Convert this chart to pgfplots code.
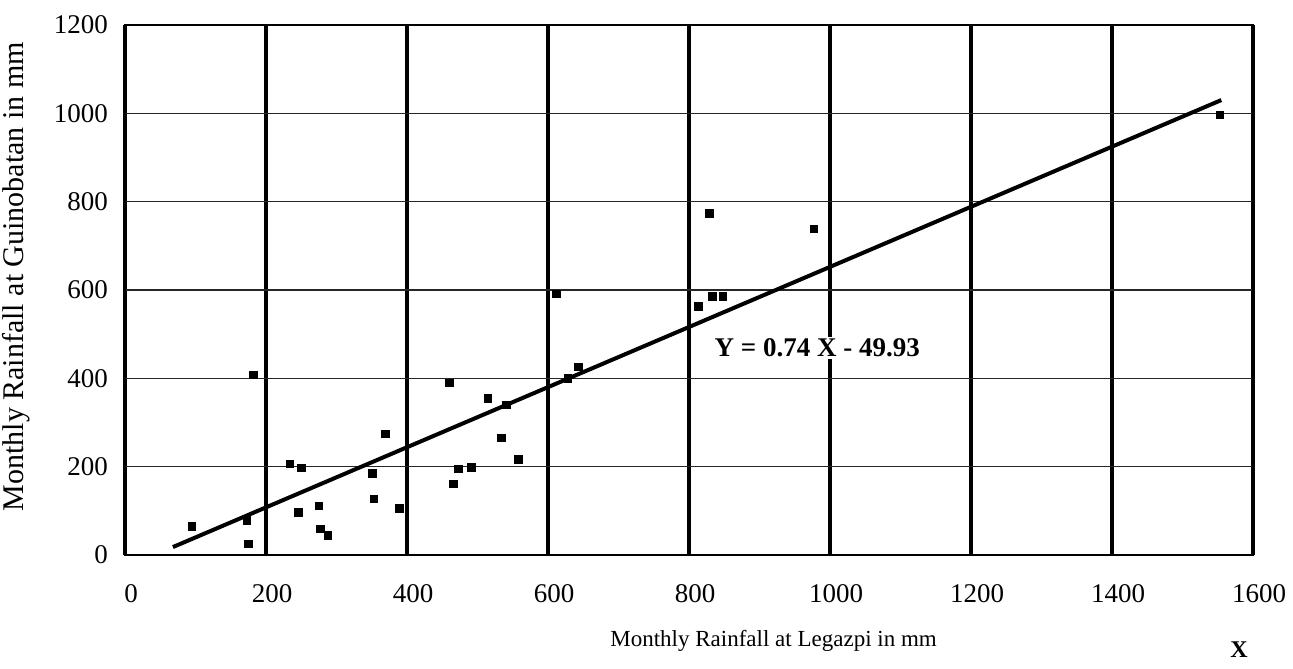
\documentclass[border=0pt]{standalone}
\usepackage{pgfplots}
\pgfplotsset{compat=1.18}
\usepackage{fontspec}
\setmainfont{Liberation Serif}
\begin{document}
\begin{tikzpicture}
\useasboundingbox (0pt,0pt) rectangle (646.5pt,334pt);
\begin{axis}[
  at={(62.5pt,56.5pt)}, anchor=south west,
  scale only axis, width=564pt, height=265pt,
  xmin=0, xmax=1600, ymin=0, ymax=1200,
  xtick={0,200,...,1600}, ytick={0,200,...,1200},
  major tick length=0pt,
  /pgf/number format/assume math mode=true,
  /pgf/number format/1000 sep={},
  tick label style={font=\fontsize{13.5}{15}\selectfont},
  xticklabel style={yshift=-11pt, xshift=3pt},
  yticklabel style={xshift=-5pt},
  xmajorgrids, ymajorgrids,
  x grid style={black, line width=1.7pt},
  y grid style={black!85, line width=0.7pt},
  axis line style={black, line width=1.1pt},
  xlabel={Monthly Rainfall at Legazpi in mm},
  xlabel style={font=\fontsize{11.5}{13}\selectfont, at={(0.575,0)}, anchor=center, yshift=-43pt},
  ylabel={Monthly Rainfall at Guinobatan in mm},
  ylabel style={font=\fontsize{15}{17}\selectfont, at={(-0.0965,0.525)}, anchor=center},
  clip=false,
]
\addplot[black, line width=2pt] coordinates {(68,18) (1555,1030)};
\addplot[only marks, mark=square*, mark size=1.9pt, black] coordinates {
(95,65) (173,79) (175,25) (182,408) (234,206) (250,197) (246,97) (275,111)
(277,59) (288,45) (351,185) (353,127) (369,274) (389,106) (460,390) (466,161)
(473,195) (491,199) (515,355) (534,265) (541,340) (558,217) (612,591) (628,400)
(643,426) (813,563) (829,774) (833,586) (848,586) (977,738) (1553,996)
};
\node[anchor=west, font=\bfseries\fontsize{13.5}{15}\selectfont, fill=white, inner sep=1pt] at (axis cs:833,469) {Y = 0.74 X - 49.93};
\node[font=\bfseries\fontsize{12}{14}\selectfont] at (axis cs:1580,-215) {X};
\end{axis}
\end{tikzpicture}
\end{document}
